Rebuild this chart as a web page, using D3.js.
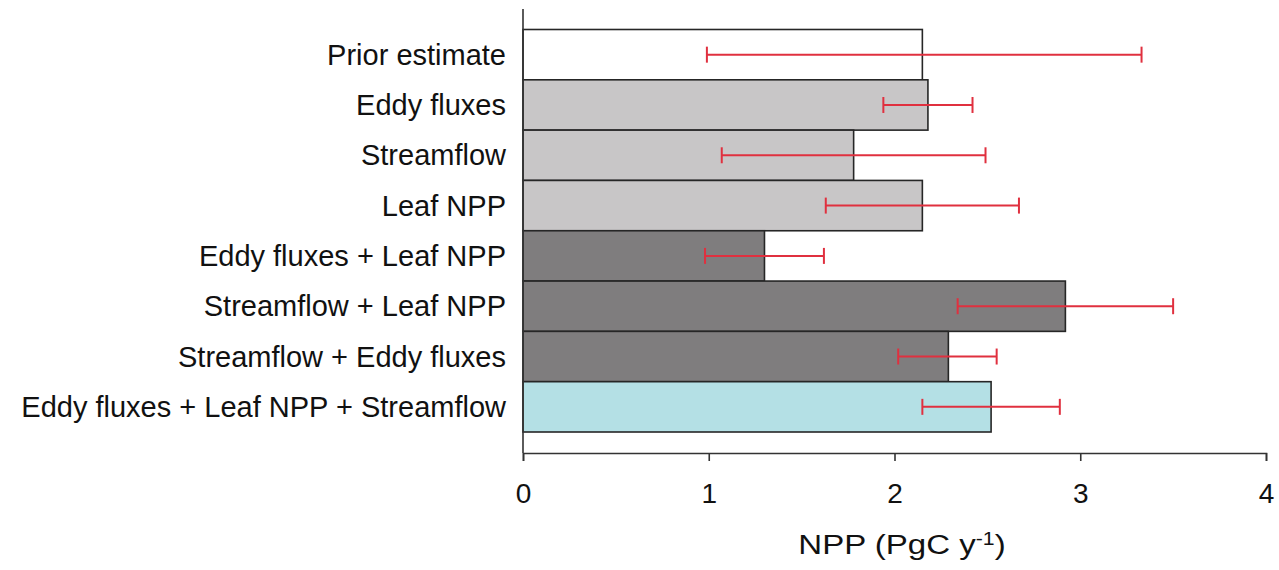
<!DOCTYPE html>
<html>
<head>
<meta charset="utf-8">
<script src="https://cdn.jsdelivr.net/npm/d3@7"></script>
<style>
  html, body { margin: 0; padding: 0; background: #fff; }
  svg { display: block; }
  text { font-family: "Liberation Sans", Arial, sans-serif; fill: #111; }
</style>
</head>
<body>
<svg id="chart" width="1279" height="570"></svg>
<script>
// Data-constraint experiments and their NPP estimates (PgC per year)
const categories = [
  "Prior estimate",
  "Eddy fluxes",
  "Streamflow",
  "Leaf NPP",
  "Eddy fluxes + Leaf NPP",
  "Streamflow + Leaf NPP",
  "Streamflow + Eddy fluxes",
  "Eddy fluxes + Leaf NPP + Streamflow"
];
const nppValues = [2.15, 2.18, 1.78, 2.15, 1.30, 2.92, 2.29, 2.52];
const errLow    = [0.99, 1.94, 1.07, 1.63, 0.98, 2.34, 2.02, 2.15];
const errHigh   = [3.33, 2.42, 2.49, 2.67, 1.62, 3.50, 2.55, 2.89];
// constraint group: 0 = prior, 1 = single, 2 = pair, 3 = all three
const groups    = [0, 1, 1, 1, 2, 2, 2, 3];
const xTicks    = [0, 1, 2, 3, 4];

const groupFill = ["#ffffff", "#c8c6c7", "#7f7d7e", "#b4e0e5"];

const svg = d3.select("#chart");
const plotLeft = 523, plotRight = 1266, plotTop = 29.5, barsBottom = 432, axisY = 453;

const x = d3.scaleLinear().domain([0, 4]).range([plotLeft, plotRight]);
const y = d3.scaleBand().domain(categories).range([plotTop, barsBottom]).padding(0);

const rows = categories.map((c, i) => ({
  cat: c, v: nppValues[i], lo: errLow[i], hi: errHigh[i], g: groups[i]
}));

// bars
svg.append("g").selectAll("rect").data(rows).join("rect")
  .attr("x", x(0))
  .attr("y", d => y(d.cat))
  .attr("width", d => x(d.v) - x(0))
  .attr("height", y.bandwidth())
  .attr("fill", d => groupFill[d.g])
  .attr("stroke", "#262626")
  .attr("stroke-width", 1.6);

// error bars
const eb = svg.append("g").attr("stroke", "#e0303f").attr("stroke-width", 2);
rows.forEach(d => {
  const cy = y(d.cat) + y.bandwidth() / 2;
  eb.append("line").attr("x1", x(d.lo)).attr("x2", x(d.hi)).attr("y1", cy).attr("y2", cy);
  eb.append("line").attr("x1", x(d.lo)).attr("x2", x(d.lo)).attr("y1", cy - 8).attr("y2", cy + 8);
  eb.append("line").attr("x1", x(d.hi)).attr("x2", x(d.hi)).attr("y1", cy - 8).attr("y2", cy + 8);
});

// x axis
const xAxis = svg.append("g")
  .attr("transform", `translate(0,${axisY})`)
  .call(d3.axisBottom(x).tickValues(xTicks).tickFormat(d3.format("d")).tickSizeOuter(0).tickSize(8).tickPadding(22));
xAxis.select(".domain").attr("stroke", "#333").attr("stroke-width", 1.6);
xAxis.selectAll(".tick line").attr("stroke", "#333").attr("stroke-width", 1.6);
xAxis.selectAll(".tick text")
  .style("font-family", "'Liberation Sans', Arial, sans-serif")
  .style("font-size", "28px").attr("fill", "#111");

// y axis line
svg.append("line")
  .attr("x1", plotLeft).attr("x2", plotLeft)
  .attr("y1", 9).attr("y2", axisY)
  .attr("stroke", "#333").attr("stroke-width", 1.6);

// category labels
svg.append("g").selectAll("text").data(rows).join("text")
  .attr("x", 506)
  .attr("y", d => y(d.cat) + y.bandwidth() / 2)
  .attr("dy", "0.35em")
  .attr("text-anchor", "end")
  .style("font-size", "29px")
  .text(d => d.cat);

// axis title, slightly widened
const title = svg.append("text")
  .attr("transform", "translate(902,554) scale(1.18,1)")
  .attr("text-anchor", "middle")
  .style("font-size", "28px");
title.append("tspan").text("NPP (PgC y");
title.append("tspan").attr("dy", -9).style("font-size", "18px").text("-1");
title.append("tspan").attr("dy", 9).text(")");
</script>
</body>
</html>
